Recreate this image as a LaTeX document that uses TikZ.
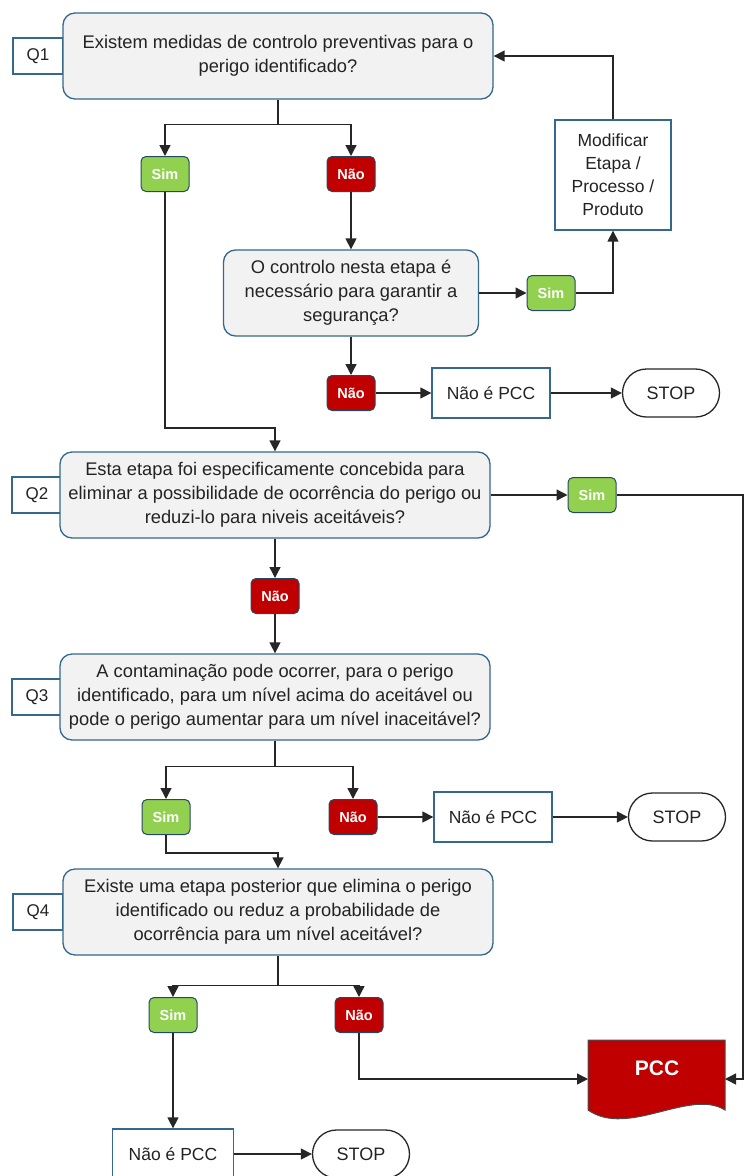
\documentclass[tikz,border=0pt]{standalone}
\usepackage{fontspec}
\setmainfont{Liberation Sans}
\usetikzlibrary{arrows.meta,positioning}

\definecolor{qblue}{RGB}{52,104,140}
\definecolor{qgray}{RGB}{242,242,242}
\definecolor{simgreen}{RGB}{146,208,80}
\definecolor{naored}{RGB}{192,0,0}
\definecolor{txtgray}{RGB}{35,35,35}

\begin{document}
\begin{tikzpicture}[x=1pt,y=-1pt,>={Triangle[length=11pt,width=11pt]},
  every node/.style={text=txtgray},
  line/.style={draw=black!85,line width=1.4pt},
  qbox/.style={draw=qblue,fill=qgray,line width=1.3pt,rounded corners=12pt,
    minimum width=430pt,minimum height=86pt,align=center,inner sep=0pt,
    font=\fontsize{18.3}{24}\selectfont},
  qlab/.style={draw=qblue,fill=white,line width=1.3pt,minimum width=50pt,
    minimum height=36pt,font=\fontsize{17}{20}\selectfont},
  simbox/.style={draw=qblue!70!black,fill=simgreen,text=white,line width=1pt,
    rounded corners=5pt,minimum width=48pt,minimum height=35pt,inner sep=0pt,
    font=\fontsize{14.5}{16}\selectfont\bfseries},
  naobox/.style={simbox,fill=naored},
  endbox/.style={draw=qblue,fill=white,line width=1.3pt,minimum width=118pt,
    minimum height=50pt,align=center,font=\fontsize{17.5}{23}\selectfont},
  stopbox/.style={draw=black!85,fill=white,line width=1.3pt,rounded corners=24pt,
    minimum width=97pt,minimum height=48pt,font=\fontsize{18}{20}\selectfont}]
  \useasboundingbox (0,0) rectangle (745,1176);

  % Q1
  \node[qlab] (l1) at (38,56) {Q1};
  \node[qbox] (q1) at (278,56) {Existem medidas de controlo preventivas para o\\perigo identificado?};
  \node[simbox] (sim1) at (165,174) {Sim};
  \node[naobox] (nao1) at (351,174) {Não};
  \node[qbox,minimum width=255pt] (q1b) at (351,293) {O controlo nesta etapa é\\necessário para garantir a\\segurança?};
  \node[simbox] (sim2) at (551,293) {Sim};
  \node[endbox,minimum width=116pt,minimum height=110pt] (mod) at (613,175) {Modificar\\Etapa /\\Processo /\\Produto};
  \node[naobox] (nao2) at (351,393) {Não};
  \node[endbox] (npcc1) at (491,393) {Não é PCC};
  \node[stopbox] (stop1) at (671,393) {STOP};

  \draw[line,->] (q1.south) -- ++(0,25) coordinate (j1) -| (sim1);
  \draw[line,->] (j1) -| (nao1);
  \draw[line,->] (nao1) -- (q1b);
  \draw[line,->] (q1b) -- (sim2);
  \draw[line,->] (sim2) -| (mod);
  \draw[line,->] (mod) |- (q1);
  \draw[line,->] (q1b) -- (nao2);
  \draw[line,->] (nao2) -- (npcc1);
  \draw[line,->] (npcc1) -- (stop1);

  % Q2
  \node[qlab] (l2) at (37,495) {Q2};
  \node[qbox] (q2) at (275,495) {Esta etapa foi especificamente concebida para\\eliminar a possibilidade de ocorrência do perigo ou\\reduzi-lo para niveis aceitáveis?};
  \node[simbox] (sim3) at (592,495) {Sim};
  \node[naobox] (nao3) at (275,596) {Não};

  \draw[line,->] (sim1) -- (sim1 |- 0,428) -| (q2);
  \draw[line,->] (q2) -- (sim3);
  \draw[line,->] (q2) -- (nao3);

  % Q3
  \node[qlab] (l3) at (37,697) {Q3};
  \node[qbox] (q3) at (275,697) {A contaminação pode ocorrer, para o perigo\\identificado, para um nível acima do aceitável ou\\pode o perigo aumentar para um nível inaceitável?};
  \node[simbox] (sim4) at (166,817) {Sim};
  \node[naobox] (nao4) at (353,817) {Não};
  \node[endbox] (npcc2) at (493,817) {Não é PCC};
  \node[stopbox] (stop2) at (677,817) {STOP};

  \draw[line,->] (nao3) -- (q3);
  \draw[line,->] (q3.south) -- ++(0,26) coordinate (j3) -| (sim4);
  \draw[line,->] (j3) -| (nao4);
  \draw[line,->] (nao4) -- (npcc2);
  \draw[line,->] (npcc2) -- (stop2);

  % Q4
  \node[qlab] (l4) at (38,912) {Q4};
  \node[qbox] (q4) at (278,912) {Existe uma etapa posterior que elimina o perigo\\identificado ou reduz a probabilidade de\\ocorrência para um nível aceitável?};
  \node[simbox] (sim5) at (173,1015) {Sim};
  \node[naobox] (nao5) at (359,1015) {Não};
  \node[endbox,minimum width=121pt] (npcc3) at (173,1154) {Não é PCC};
  \node[stopbox] (stop3) at (361,1154) {STOP};

  \draw[line,->] (sim4) -- (sim4 |- 0,853) -| (q4);
  \draw[line,->] (q4.south) -- ++(0,30) coordinate (j4) -| (sim5);
  \draw[line,->] (j4) -| (nao5);
  \draw[line,->] (sim5) -- (npcc3);
  \draw[line,->] (npcc3) -- (stop3);

  % PCC
  \coordinate (pccL) at (588,1079);
  \coordinate (pccR) at (725,1079);
  \draw[draw=black!70,fill=naored,line width=1pt] (588,1040) -- (725,1040) -- (725,1110)
    .. controls (690,1088) and (628,1138) .. (588,1110) -- cycle;
  \node[text=white,font=\fontsize{21}{24}\selectfont\bfseries] (pcc) at (657,1068) {PCC};

  \draw[line,->] (nao5) |- (pccL);
  \draw[line,->] (sim3) -- (743,495) |- (pccR);
\end{tikzpicture}
\end{document}
